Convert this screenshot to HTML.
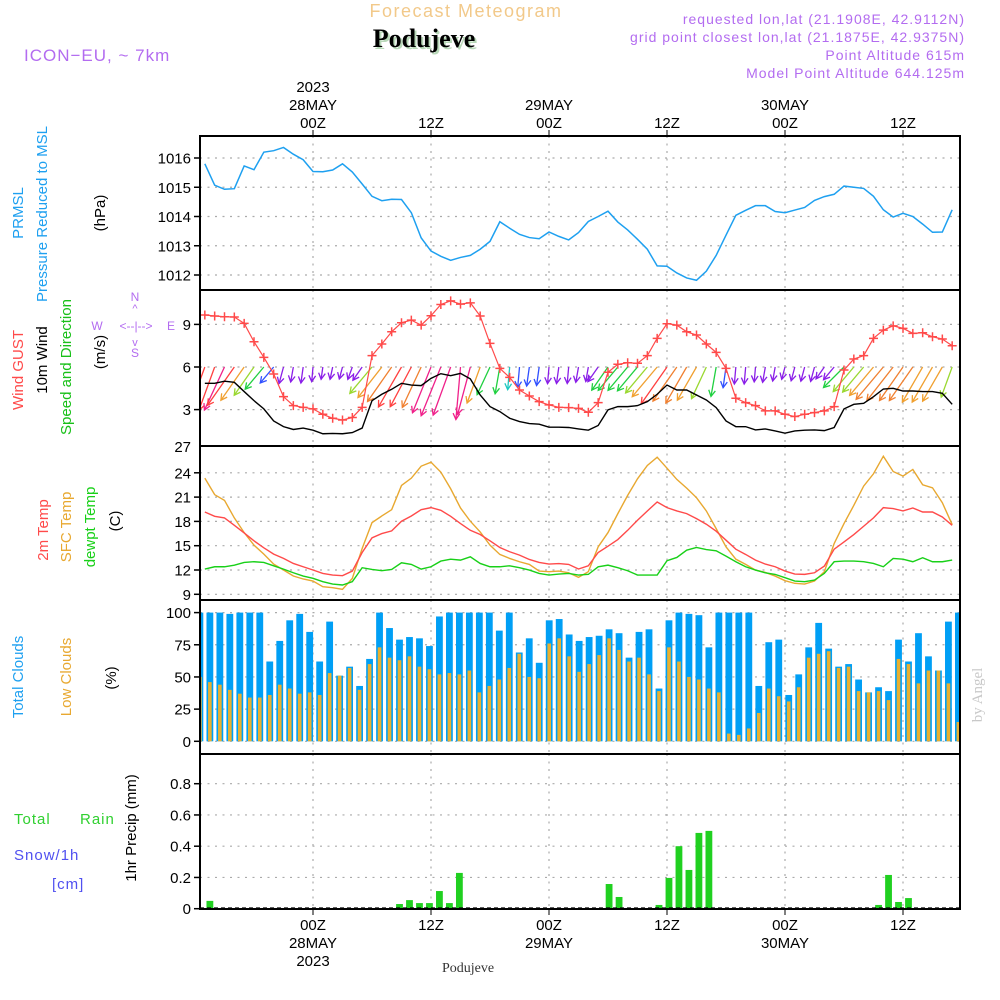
<!DOCTYPE html>
<html><head><meta charset="utf-8"><title>Meteogram Podujeve</title>
<style>
html,body{margin:0;padding:0;background:#fff;}
svg{display:block;font-family:"Liberation Sans",sans-serif;}
</style></head>
<body>
<svg id="chart" width="1000" height="1000" viewBox="0 0 1000 1000" xmlns="http://www.w3.org/2000/svg">
  <text x="466" y="17" font-size="18" fill="#f2c98a" text-anchor="middle" letter-spacing="1.5">Forecast Meteogram</text>
  <text x="426" y="49" font-size="26" font-weight="bold" font-family="Liberation Serif, serif" fill="#b8d8b8" text-anchor="middle">Podujeve</text>
  <text x="424" y="47" font-size="26" font-weight="bold" font-family="Liberation Serif, serif" fill="#000" text-anchor="middle">Podujeve</text>
  <text x="24" y="61" font-size="17" fill="#b36cf0" letter-spacing="1">ICON−EU, ~ 7km</text>
  <g font-size="14" fill="#b36cf0" text-anchor="end" letter-spacing="1">
    <text x="965" y="24">requested lon,lat (21.1908E, 42.9112N)</text>
    <text x="965" y="42">grid point closest lon,lat (21.1875E, 42.9375N)</text>
    <text x="965" y="60">Point Altitude 615m</text>
    <text x="965" y="78">Model Point Altitude 644.125m</text>
  </g>
  <g id="axes"></g>
  <g id="marks"></g>
  <g id="labels" font-size="14"></g>
</svg>
<script>
// ---- data (hourly from 13Z 27 May, h=-11 .. 65 relative to 00Z 28 May) ----
const pressure = [1015.8,1015.07,1014.93,1014.95,1015.73,1015.6,1016.2,1016.25,1016.36,1016.13,1015.94,1015.54,1015.53,1015.59,1015.8,1015.52,1015.11,1014.69,1014.54,1014.59,1014.58,1014.13,1013.27,1012.82,1012.64,1012.5,1012.6,1012.67,1012.88,1013.15,1013.82,1013.6,1013.39,1013.28,1013.24,1013.47,1013.32,1013.2,1013.45,1013.83,
1014.0,1014.18,1013.81,1013.54,1013.22,1012.88,1012.31,1012.3,1012.07,1011.9,1011.82,1012.13,1012.67,1013.36,1014.04,1014.21,1014.37,1014.37,1014.17,1014.13,1014.22,1014.31,1014.55,1014.68,1014.76,1015.04,1015.0,1014.96,1014.69,1014.23,1013.98,1014.11,1014.0,1013.74,1013.46,1013.47,1014.23];
const gust = [9.66,9.59,9.54,9.52,9.07,7.78,6.68,5.51,3.91,3.28,3.16,3.05,2.67,2.39,2.27,2.44,3.16,6.8,7.62,8.48,9.12,9.3,8.95,9.61,10.4,10.66,10.43,10.52,9.59,7.66,5.9,5.27,4.38,3.96,3.56,3.33,3.16,3.14,3.09,2.81,
3.49,5.63,6.19,6.3,6.26,6.8,8.02,9.05,8.95,8.48,8.25,7.62,7.03,5.9,3.8,3.49,3.28,2.91,2.91,2.67,2.51,2.67,2.79,2.91,3.21,5.79,6.56,6.8,8.02,8.6,8.9,8.72,8.37,8.41,8.13,7.97,7.5];
const wind10m = [4.85,4.85,5.0,4.92,4.27,3.63,3.05,2.2,1.8,1.6,1.7,1.55,1.3,1.32,1.3,1.38,1.7,3.63,4.08,4.43,4.85,4.73,4.69,5.2,5.53,5.39,5.55,5.16,4.03,3.21,2.86,2.39,2.16,2.02,1.97,1.76,1.76,1.74,1.64,1.55,
1.88,2.98,3.21,3.21,3.28,3.56,4.08,4.73,4.38,4.38,4.03,3.68,3.14,2.2,1.8,1.8,1.57,1.64,1.5,1.34,1.5,1.55,1.57,1.52,1.74,3.05,3.37,3.44,3.91,4.45,4.5,4.31,4.31,4.27,4.27,4.15,3.37];
const windDir = [20,20,25,35,35,35,40,40,15,10,8,5,8,12,15,20,35,40,38,35,30,28,25,22,22,20,5,15,20,25,10,5,5,8,8,5,8,5,10,10,
35,35,40,40,40,40,40,35,35,30,30,25,10,8,5,5,5,10,10,15,15,15,15,35,40,45,40,40,40,40,38,35,35,30,30,30,20];
const temp2m = [19.16,18.63,18.43,17.52,16.58,15.6,14.74,13.96,13.43,12.81,12.4,12.0,11.58,11.38,11.3,11.87,14.16,15.97,16.5,16.83,18.02,18.67,19.45,19.7,19.37,18.63,17.73,16.9,16.38,15.6,14.78,14.25,13.84,13.3,12.93,12.73,12.8,12.69,12.12,
12.52,14.16,14.94,15.76,16.9,18.14,19.29,20.4,19.7,19.29,18.96,18.34,17.65,16.79,15.68,14.57,13.92,13.22,12.73,12.4,11.87,11.5,11.46,11.66,12.48,14.57,15.47,16.38,17.4,18.43,19.7,19.58,19.29,19.66,19.16,19.16,18.55,17.52];
const tempSfc = [23.34,21.3,20.6,18.43,16.62,15.07,13.96,12.73,12.0,11.26,10.89,10.64,9.94,9.82,9.61,10.97,14.66,17.85,18.67,19.45,22.44,23.34,24.82,25.31,24.08,22.03,19.66,18.02,16.7,15.07,13.92,13.43,13.02,12.69,11.87,11.79,11.87,11.66,11.09,
11.79,14.86,16.62,18.96,21.21,23.26,24.9,25.93,24.57,23.18,22.11,20.93,19.29,17.11,14.86,13.34,12.69,11.99,11.7,11.25,10.68,10.35,10.27,10.64,11.79,15.27,17.73,19.98,22.36,23.88,26.05,24.16,23.59,24.41,22.52,22.15,20.31,17.61];
const dewpt = [12.11,12.4,12.4,12.6,12.93,13.02,12.93,12.52,12.11,11.66,11.25,10.97,10.56,10.27,10.15,10.56,12.28,12.07,11.91,12.07,12.89,12.69,12.11,12.4,13.1,13.34,13.22,13.63,12.81,12.4,12.4,12.52,12.28,11.99,11.58,11.38,11.5,11.58,11.38,
11.46,12.4,12.6,12.28,11.91,11.38,11.38,11.38,13.14,13.55,14.45,14.78,14.53,14.37,13.71,13.02,12.4,11.99,11.66,11.46,11.05,10.64,10.56,10.76,11.58,13.02,13.1,13.1,13.02,12.81,12.4,13.43,13.34,13.02,13.51,13.02,13.02,13.22];
const totalClouds = [100,100,100,99,100,100,100,62,78,94,99,85,62,93,51,58,43,64,100,88,79,81,80,74,97,100,100,100,100,100,86,100,69,80,61,94,95,83,78,
81,82,87,84,65,85,87,41,94,100,99,98,73,100,100,100,100,43,77,79,36,52,73,92,72,58,60,48,38,42,39,79,62,84,66,55,93,100];
const lowClouds = [50,46,44,40,37,34,34,36,44,41,37,38,36,53,51,57,40,60,73,65,63,66,58,56,52,53,52,55,38,43,48,57,68,50,49,76,80,66,54,
60,67,80,71,62,65,52,39,73,62,50,48,41,38,6,5,10,22,41,35,31,42,65,68,70,57,58,39,38,39,32,64,60,45,55,55,45,15];
const precip = [0,0.05,0,0,0,0,0,0,0,0,0,0,0,0,0,0,0,0,0,0.002,0.03,0.055,0.036,0.036,0.113,0.036,0.229,0,0,0,0,0,0,0,0,0,0,0,0,
0,0.003,0.158,0.075,0,0,0,0.024,0.197,0.40,0.248,0.485,0.498,0,0,0,0,0,0,0,0,0,0,0,0,0,0,0,0,0.024,0.216,0.043,0.068,0,0,0];
const pressureTicks = [1012,1013,1014,1015,1016];
const windTicks = [3,6,9];
const tempTicks = [9,12,15,18,21,24,27];
const cloudTicks = [0,25,50,75,100];
const precipTicks = [0,0.2,0.4,0.6,0.8];
const timeTicks = [0,12,24,36,48,60];
const timeLabels = ["00Z","12Z","00Z","12Z","00Z","12Z"];
const dateLabels = ["28MAY","","29MAY","","30MAY",""];
const startHour = -11;

// ---- axis functions ----
const NS="http://www.w3.org/2000/svg";
const X0=200, X1=960;
const xh = h => 313 + h*118/12;
const xi = i => xh(startHour + i);
const xbar = i => 196.5 + i*(758.5/(totalClouds.length-1));
const yP = v => 158 + (1016 - v)*29.25;
const yW = v => 367 - (v - 6)*14.2;
const yT = v => 570 - (v - 12)*8.1;
const yC = v => 741.3 - v*1.287;
const yR = v => 908.7 - v*156.25;
const panels = [[136,290],[290,446],[446,600],[600,754],[754,909]];

function el(tag, attrs, parent){const e=document.createElementNS(NS,tag);for(const k in attrs)e.setAttribute(k,attrs[k]);parent.appendChild(e);return e;}
const axes=document.getElementById('axes'), marks=document.getElementById('marks'), labels=document.getElementById('labels');

const defs=el('defs',{},axes);
const cp=el('clipPath',{id:'plotclip'},defs);
el('rect',{x:X0,y:136,width:X1-X0,height:773},cp);

const gridStyle={stroke:'#aaa','stroke-width':1.2,'stroke-dasharray':'2,5.5',fill:'none'};
function hgrid(ys, fn, fmt, name){
  ys.forEach(v=>{
    const y=fn(v);
    const g=el('line',Object.assign({x1:X0,x2:X1,y1:y,y2:y},gridStyle),axes);
    
    
    const t=el('line',{x1:194,x2:X0,y1:y,y2:y,stroke:'#000','stroke-width':1.5},axes);
    
    
    const tx=el('text',{x:191,y:y+5.5,'text-anchor':'end','font-size':15,fill:'#000'},labels);
    tx.textContent=fmt(v);
    
    
  });
}
panels.forEach(([a,b])=>{
  timeTicks.forEach(h=>{
    const g=el('line',Object.assign({x1:xh(h),x2:xh(h),y1:a,y2:b},gridStyle),axes);
    
    
  });
});
hgrid(pressureTicks,yP,v=>String(v),'pressure');
hgrid(windTicks,yW,v=>String(v),'wind');
hgrid(tempTicks.filter(v=>v<27),yT,v=>String(v),'temp');
hgrid(cloudTicks,yC,v=>String(v),'cloud');
hgrid(precipTicks,yR,v=>v===0?'0':v.toFixed(1),'precip');
{ const tx=el('text',{x:191,y:452,'text-anchor':'end','font-size':15,fill:'#000'},labels); tx.textContent='27';
  
   }

// ---- pressure line ----
const pl=el('polyline',{points:pressure.map((v,i)=>xi(i)+','+yP(v)).join(' '),fill:'none',stroke:'#1ea0f0','stroke-width':1.5},marks);



// ---- wind arrows ----
function speedColor(s){
  if(s<1.9) return '#8a1ee8';
  if(s<2.3) return '#3050ff';
  if(s<2.8) return '#20c8c0';
  if(s<3.3) return '#20d040';
  if(s<3.7) return '#9ad830';
  if(s<4.3) return '#f0a030';
  if(s<4.7) return '#f08030';
  if(s<5.0) return '#ff4040';
  return '#f0208a';
}
const wg=el('g',{'clip-path':'url(#plotclip)'},marks);
wind10m.forEach((s,i)=>{
  const x=xi(i), y=yW(6), L=9.5*s, a=windDir[i]*Math.PI/180;
  const tx=x-L*Math.sin(a), ty=y+L*Math.cos(a);
  const c=speedColor(s);
  const g=el('g',{stroke:c,'stroke-width':1.3,fill:'none'},wg);
  
  
  el('line',{x1:x,y1:y,x2:tx,y2:ty},g);
  const ang=Math.atan2(ty-y,tx-x), hl=7;
  el('polyline',{points:(tx-hl*Math.cos(ang-0.5))+','+(ty-hl*Math.sin(ang-0.5))+' '+tx+','+ty+' '+(tx-hl*Math.cos(ang+0.5))+','+(ty-hl*Math.sin(ang+0.5))},g);
});
const ml=el('polyline',{points:wind10m.map((v,i)=>xi(i)+','+yW(v)).join(' '),fill:'none',stroke:'#000','stroke-width':1.4},marks);


const gl=el('polyline',{points:gust.map((v,i)=>xi(i)+','+yW(v)).join(' '),fill:'none',stroke:'#ff4a4a','stroke-width':1.2},marks);


gust.forEach((v,i)=>{
  const x=xi(i), y=yW(v);
  const p=el('path',{d:`M${x-4.5},${y}H${x+4.5}M${x},${y-4.5}V${y+4.5}`,stroke:'#ff4a4a','stroke-width':1.5},marks);
  
  
});

// ---- temperature ----
[[tempSfc,'#e8a830','sfc-temp-line'],[temp2m,'#ff4a4a','temp-2m-line'],[dewpt,'#18d018','dewpoint-line']].forEach(([arr,c,n])=>{
  const l=el('polyline',{points:arr.map((v,i)=>xi(i)+','+yT(v)).join(' '),fill:'none',stroke:c,'stroke-width':1.4},marks);
  
  
});

// ---- clouds ----
const cg=el('g',{'clip-path':'url(#plotclip)'},marks);
totalClouds.forEach((v,i)=>{
  const x=xbar(i);
  const b=el('rect',{x:x,y:yC(v),width:6.8,height:yC(0)-yC(v),fill:'#009ff5'},cg);
  
  
});
lowClouds.forEach((v,i)=>{
  const x=xbar(i);
  const b=el('rect',{x:x+1.6,y:yC(v),width:3.6,height:yC(0)-yC(v),fill:'#e8b030'},cg);
  
  
});

// ---- precip ----
precip.forEach((v,i)=>{
  if(v<=0) return;
  const x=xbar(i);
  const b=el('rect',{x:x,y:yR(v),width:6.8,height:yR(0)-yR(v),fill:'#20d020'},cg);
  
  
});
const sl=el('line',{x1:X0,x2:X1,y1:908,y2:908,stroke:'#000','stroke-width':1.2,'stroke-dasharray':'4,3'},marks);



// ---- panel frames ----
panels.forEach(([a,b])=>{
  const r=el('rect',{x:X0,y:a,width:X1-X0,height:b-a,fill:'none',stroke:'#000','stroke-width':2},axes.parentNode);
  
  
});

// ---- time axis labels ----
timeTicks.forEach((h,k)=>{
  const x=xh(h);
  const t1=el('text',{x:x,y:128,'text-anchor':'middle','font-size':15},labels); t1.textContent=timeLabels[k];
  
  
  const t2=el('text',{x:x,y:930,'text-anchor':'middle','font-size':15},labels); t2.textContent=timeLabels[k];
  
  
  el('line',{x1:x,x2:x,y1:130,y2:136,stroke:'#000','stroke-width':1},axes);
  el('line',{x1:x,x2:x,y1:909,y2:915,stroke:'#000','stroke-width':1},axes);
  if(dateLabels[k]){
    const d1=el('text',{x:x,y:110,'text-anchor':'middle','font-size':15},labels); d1.textContent=dateLabels[k];
    
    
    const d2=el('text',{x:x,y:948,'text-anchor':'middle','font-size':15},labels); d2.textContent=dateLabels[k];
    
    
  }
});

// ---- static labels ----
function T(txt,x,y,opts,name){const e=document.createElementNS(NS,'text');e.setAttribute('x',x);e.setAttribute('y',y);for(const k in opts)e.setAttribute(k,opts[k]);e.textContent=txt;


labels.appendChild(e);return e;}
function R(txt,x,y,color,name,size){return T(txt,0,0,{transform:`translate(${x},${y}) rotate(-90)`,'text-anchor':'middle',fill:color,'font-size':size||15},name);}
T('2023',313,92,{'text-anchor':'middle','font-size':15},'top-year-label');
T('2023',313,966,{'text-anchor':'middle','font-size':15},'bottom-year-label');
T('Podujeve',468,972,{'text-anchor':'middle','font-size':14,'font-family':'Liberation Serif, serif',fill:'#333'},'bottom-location-label');
R('PRMSL',23,213,'#1ea0f0','prmsl-label');
R('Pressure Reduced to MSL',47,214,'#1ea0f0','pressure-label');
R('(hPa)',105,213,'#000','pressure-unit');
R('Wind GUST',23,370,'#ff4a4a','gust-label');
R('10m Wind',47,360,'#000','wind-label');
R('Speed and Direction',71,367,'#18c018','wind-speed-dir-label');
R('(m/s)',105,352,'#000','wind-unit');
T('N',135,301,{'text-anchor':'middle','font-size':12,fill:'#b36cf0'},'compass-n');
T('^',135,312,{'text-anchor':'middle','font-size':11,fill:'#b36cf0'},'compass-up');
T('W',97,330,{'text-anchor':'middle','font-size':12,fill:'#b36cf0'},'compass-w');
T('<--|-->',136,330,{'text-anchor':'middle','font-size':12,fill:'#b36cf0'},'compass-arrows');
T('E',171,330,{'text-anchor':'middle','font-size':12,fill:'#b36cf0'},'compass-e');
T('v',135,346,{'text-anchor':'middle','font-size':11,fill:'#b36cf0'},'compass-down');
T('S',135,357,{'text-anchor':'middle','font-size':12,fill:'#b36cf0'},'compass-s');
R('2m Temp',48,530,'#ff4a4a','temp-2m-label');
R('SFC Temp',71,527,'#e8a830','sfc-temp-label');
R('dewpt Temp',95,527,'#18d018','dewpoint-label');
R('(C)',120,521,'#000','temp-unit');
R('Total Clouds',23,677,'#1ea0f0','total-clouds-label');
R('Low Clouds',71,677,'#e8a830','low-clouds-label');
R('(%)',116,678,'#000','cloud-unit');
R('1hr Precip (mm)',136,828,'#000','precip-label');
T('Total',14,824,{'font-size':15,fill:'#30d030','letter-spacing':'1'},'rain-label-total');
T('Rain',80,824,{'font-size':15,fill:'#30d030','letter-spacing':'1'},'rain-label');
T('Snow/1h',14,860,{'font-size':15,fill:'#5050f0','letter-spacing':'1'},'snow-label');
T('[cm]',52,889,{'font-size':15,fill:'#5050f0','letter-spacing':'1'},'snow-unit');
R('by Angel',982,695,'#c8c8c8','author-credit',15).setAttribute('font-family','Liberation Serif, serif');
</script>
</body></html>
